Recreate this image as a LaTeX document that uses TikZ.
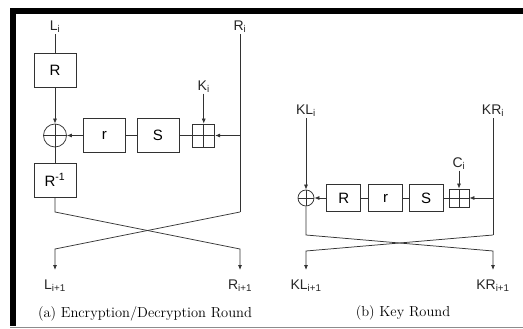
\documentclass[tikz,border=0pt]{standalone}
\usepackage{fontspec}
\newfontfamily\arial{Liberation Sans}
\usepackage{xcolor}
\usepackage{tikz}
\usetikzlibrary{arrows.meta, positioning, calc}
\definecolor{linegray}{RGB}{50,50,50}
\definecolor{framegray}{RGB}{140,140,140}

\begin{document}
\begin{tikzpicture}[
    x=1pt, y=-1pt,
    line width=0.75pt,
    box/.style={rectangle, draw=linegray, minimum width=42pt, minimum height=34pt, inner sep=0pt, font=\arial\fontsize{15}{17}\selectfont},
    smallbox/.style={box, minimum width=34pt, minimum height=27pt},
    keyadd/.style={rectangle, draw=linegray, minimum width=22pt, minimum height=23pt, inner sep=0pt,
        path picture={\draw[linegray, line width=0.6pt] (path picture bounding box.north) -- (path picture bounding box.south) (path picture bounding box.west) -- (path picture bounding box.east);}},
    xor/.style={circle, draw=linegray, minimum size=23pt, inner sep=0pt,
        path picture={\draw[linegray, line width=0.6pt] (path picture bounding box.north) -- (path picture bounding box.south) (path picture bounding box.west) -- (path picture bounding box.east);}},
    lbl/.style={font=\arial\fontsize{14}{16}\selectfont, inner sep=1pt, color=black!85},
    arrow/.style={-{Latex[length=5pt, width=4pt]}, color=linegray},
    wire/.style={color=linegray},
    caption/.style={font=\fontsize{14.5}{17}\selectfont, inner sep=0pt}
]
\useasboundingbox (0,0) rectangle (523,329);
\fill[black] (10,8) rectangle (523,14);
\fill[black] (10,8) rectangle (16,326);
\draw[framegray, line width=0.8pt] (10,327.5) -- (523,327.5);

\node[lbl] (li) at (55,27) {L\textsubscript{i}};
\node[lbl] (ri) at (240,27) {R\textsubscript{i}};
\node[box] (rot) at (55,70.5) {R};
\node[xor] (xa) at (55,135.5) {};
\node[box, right=16pt of xa] (rra) {r};
\node[box, right=11pt of rra] (sa) {S};
\node[keyadd, right=13pt of sa] (ka) {};
\node[lbl, above=30pt of ka] (ki) {K\textsubscript{i}};
\node[box] (rinv) at (55,180) {R\textsuperscript{-1}};
\coordinate (la1) at (55,212);
\coordinate (la2) at (55,249);
\coordinate (la3) at (55,270);
\coordinate (rb1) at (240,212);
\coordinate (rb2) at (240,249);
\coordinate (rb3) at (240,270);
\node[lbl, below=8pt of la3] (lo) {L\textsubscript{i+1}};
\node[lbl, below=8pt of rb3] (ro) {R\textsubscript{i+1}};

\node[lbl] (kli) at (306,111) {KL\textsubscript{i}};
\node[lbl] (kri) at (493,111) {KR\textsubscript{i}};
\node[xor, minimum size=16pt] (xb) at (306,198) {};
\node[smallbox, right=12pt of xb] (rotb) {R};
\node[smallbox, right=7pt of rotb] (rrb) {r};
\node[smallbox, right=6pt of rrb] (sb) {S};
\node[keyadd, minimum width=20pt, minimum height=18pt, right=5pt of sb] (kb) {};
\node[lbl, above=18pt of kb] (ci) {C\textsubscript{i}};
\coordinate (lc1) at (306,235);
\coordinate (lc2) at (306,251);
\coordinate (lc3) at (306,270);
\coordinate (rc1) at (493,235);
\coordinate (rc2) at (493,251);
\coordinate (rc3) at (493,270);
\node[lbl, below=8pt of lc3] (klo) {KL\textsubscript{i+1}};
\node[lbl, below=8pt of rc3] (kro) {KR\textsubscript{i+1}};

\node[caption] (capa) at (145,314) {(a) Encryption/Decryption Round};
\node[caption] (capb) at (403,313) {(b) Key Round};

\draw[wire] (li) -- (rot);
\draw[arrow] (rot) -- (xa);
\draw[arrow] (rra) -- (xa);
\draw[wire] (rra) -- (sa);
\draw[wire] (sa) -- (ka);
\draw[arrow] (ki) -- (ka);
\draw[arrow] (ri |- ka) -- (ka);
\draw[wire] (xa) -- (rinv);
\draw[wire] (ri) -- (rb1);
\draw[arrow] (rinv) -- (la1) -- (rb2) -- (rb3);
\draw[arrow] (rb1) -- (la2) -- (la3);

\draw[arrow] (kli) -- (xb);
\draw[arrow] (rotb) -- (xb);
\draw[wire] (rotb) -- (rrb);
\draw[wire] (rrb) -- (sb);
\draw[wire] (sb) -- (kb);
\draw[arrow] (ci) -- (kb);
\draw[arrow] (kri |- kb) -- (kb);
\draw[wire] (kri) -- (rc1);
\draw[arrow] (xb) -- (lc1) -- (rc2) -- (rc3);
\draw[arrow] (rc1) -- (lc2) -- (lc3);
\end{tikzpicture}
\end{document}
